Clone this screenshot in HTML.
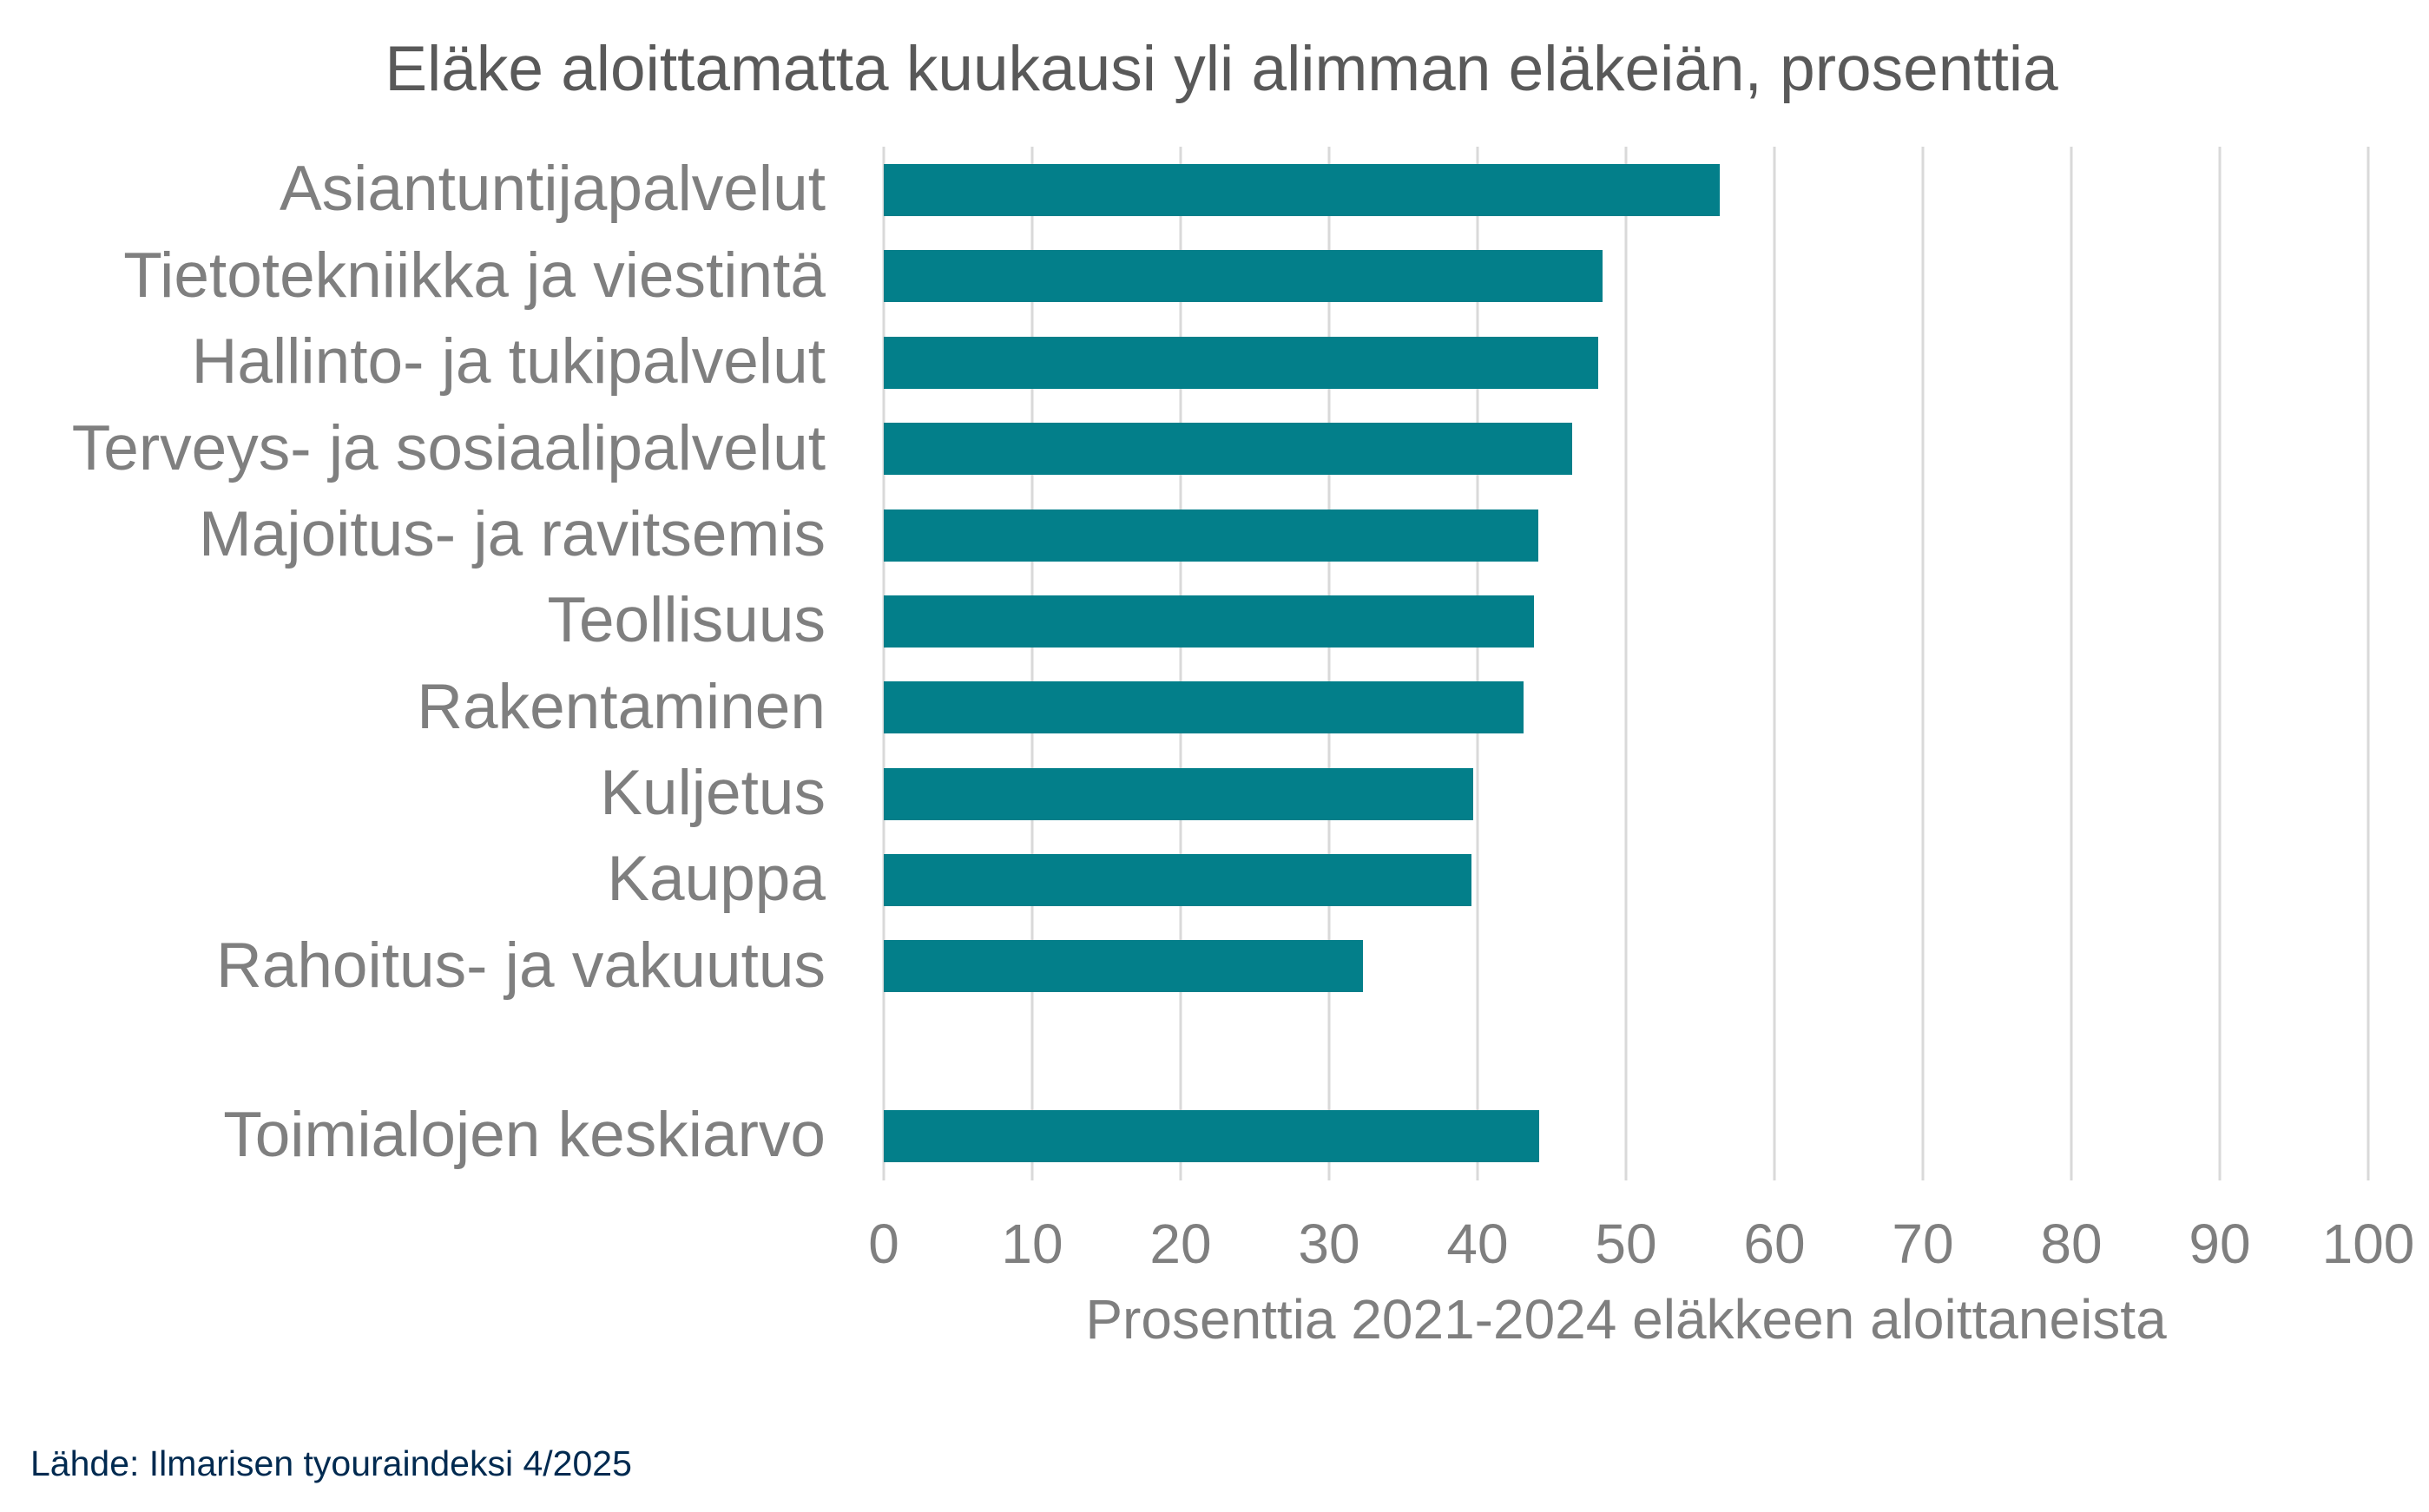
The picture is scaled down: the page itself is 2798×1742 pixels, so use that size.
<!DOCTYPE html>
<html><head><meta charset="utf-8"><style>
html,body{margin:0;padding:0;background:#fff;}
svg{display:block;}
text{font-family:"Liberation Sans",Arial,sans-serif;}
</style></head><body>
<svg width="2798" height="1742" viewBox="0 0 2798 1742" xmlns="http://www.w3.org/2000/svg">
<rect width="2798" height="1742" fill="#fff"/>
<text x="1407" y="104" font-size="73" fill="#595959" text-anchor="middle">Eläke aloittamatta kuukausi yli alimman eläkeiän, prosenttia</text>
<g stroke="#d9d9d9" stroke-width="3">
<line x1="1018" y1="169" x2="1018" y2="1360"/>
<line x1="1189" y1="169" x2="1189" y2="1360"/>
<line x1="1360" y1="169" x2="1360" y2="1360"/>
<line x1="1531" y1="169" x2="1531" y2="1360"/>
<line x1="1702" y1="169" x2="1702" y2="1360"/>
<line x1="1873" y1="169" x2="1873" y2="1360"/>
<line x1="2044" y1="169" x2="2044" y2="1360"/>
<line x1="2215" y1="169" x2="2215" y2="1360"/>
<line x1="2386" y1="169" x2="2386" y2="1360"/>
<line x1="2557" y1="169" x2="2557" y2="1360"/>
<line x1="2728" y1="169" x2="2728" y2="1360"/>
</g>
<g fill="#037f8a">
<rect x="1018" y="189" width="963" height="60"/>
<rect x="1018" y="288" width="828" height="60"/>
<rect x="1018" y="388" width="823" height="60"/>
<rect x="1018" y="487" width="793" height="60"/>
<rect x="1018" y="587" width="754" height="60"/>
<rect x="1018" y="686" width="749" height="60"/>
<rect x="1018" y="785" width="737" height="60"/>
<rect x="1018" y="885" width="679" height="60"/>
<rect x="1018" y="984" width="677" height="60"/>
<rect x="1018" y="1083" width="552" height="60"/>
<rect x="1018" y="1279" width="755" height="60"/>
</g>
<g font-size="73" fill="#7f7f7f" text-anchor="end">
<text x="951" y="242">Asiantuntijapalvelut</text>
<text x="951" y="342">Tietotekniikka ja viestintä</text>
<text x="951" y="441">Hallinto- ja tukipalvelut</text>
<text x="951" y="541">Terveys- ja sosiaalipalvelut</text>
<text x="951" y="640">Majoitus- ja ravitsemis</text>
<text x="951" y="739">Teollisuus</text>
<text x="951" y="839">Rakentaminen</text>
<text x="951" y="938">Kuljetus</text>
<text x="951" y="1037">Kauppa</text>
<text x="951" y="1137">Rahoitus- ja vakuutus</text>
<text x="951" y="1332">Toimialojen keskiarvo</text>
</g>
<g font-size="64" fill="#7f7f7f" text-anchor="middle">
<text x="1018" y="1455">0</text>
<text x="1189" y="1455">10</text>
<text x="1360" y="1455">20</text>
<text x="1531" y="1455">30</text>
<text x="1702" y="1455">40</text>
<text x="1873" y="1455">50</text>
<text x="2044" y="1455">60</text>
<text x="2215" y="1455">70</text>
<text x="2386" y="1455">80</text>
<text x="2557" y="1455">90</text>
<text x="2728" y="1455">100</text>
</g>
<text x="1873" y="1542" font-size="64" fill="#7f7f7f" text-anchor="middle">Prosenttia 2021-2024 eläkkeen aloittaneista</text>
<text x="35" y="1700" font-size="41" fill="#002a50">Lähde: Ilmarisen tyouraindeksi 4/2025</text>
</svg>
</body></html>
